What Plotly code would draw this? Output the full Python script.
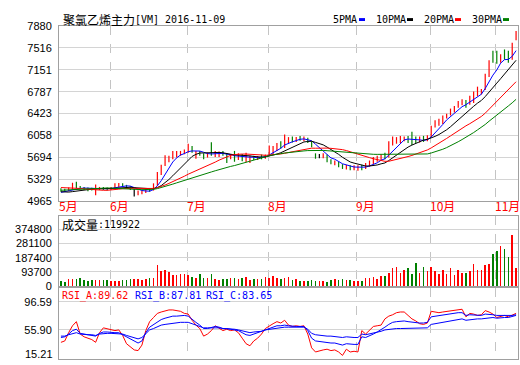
import plotly.graph_objects as go
import pandas as pd

# ---------------- data ----------------
month_labels = ["5月", "6月", "7月", "8月", "9月", "10月", "11月"]
month_start = [0, 13, 33, 54, 77, 96, 113]
price_ticks = [4965, 5329, 5694, 6058, 6423, 6787, 7151, 7516, 7880]
vol_ticks = [0, 93700, 187400, 281100, 374800]
rsi_ticks = [15.21, 55.90, 96.59]

# closes before the visible window (used only to warm up the moving averages)
prior_closes = [5020, 5030, 5040, 5050, 5060, 5050, 5060, 5070, 5080, 5090,
                5150, 5200, 5250, 5280, 5300, 5310, 5290, 5270, 5300, 5250,
                5200, 5160, 5120, 5090, 5080, 5070, 5090, 5110, 5140]

opens = [5150, 5145, 5135, 5165, 5200, 5195, 5185, 5175, 5165, 5140,
         5170, 5190, 5170, 5165, 5185, 5225, 5250, 5225, 5200, 5105,
         5100, 5110, 5115, 5160, 5150, 5240, 5430, 5560, 5670, 5700,
         5730, 5770, 5790, 5790, 5870, 5700, 5780, 5760, 5700, 5800,
         5760, 5740, 5770, 5740, 5680, 5760, 5680, 5740, 5660, 5690,
         5710, 5680, 5730, 5710, 5720, 5780, 5850, 5930, 5880, 5990,
         6020, 5970, 6020, 5990, 6010, 5950, 5750, 5720, 5710, 5740,
         5640, 5580, 5610, 5560, 5510, 5550, 5490, 5520, 5560, 5510,
         5560, 5600, 5650, 5680, 5740, 5700, 5900, 5980, 5990, 5990,
         6030, 6020, 6000, 5960, 6010, 5980, 6040, 6200, 6260, 6300,
         6370, 6400, 6480, 6540, 6600, 6640, 6590, 6690, 6740, 6790,
         6820, 7060, 7440, 7400, 7280, 7470, 7440, 7330, 7660]
highs = [5180, 5170, 5190, 5270, 5285, 5215, 5200, 5190, 5185, 5240,
         5200, 5200, 5190, 5200, 5260, 5265, 5260, 5235, 5210, 5170,
         5140, 5140, 5170, 5180, 5260, 5450, 5570, 5730, 5720, 5800,
         5800, 5800, 5825, 5920, 5880, 5800, 5800, 5760, 5770, 5945,
         5800, 5790, 5800, 5760, 5750, 5800, 5760, 5750, 5770, 5720,
         5720, 5710, 5740, 5740, 5890, 5880, 5930, 5960, 6075, 6030,
         6040, 6030, 6050, 6040, 6020, 5960, 5760, 5750, 5760, 5740,
         5660, 5640, 5620, 5580, 5570, 5560, 5560, 5560, 5570, 5600,
         5640, 5700, 5720, 5740, 5770, 5960, 6040, 6030, 6050, 6040,
         6050, 6120, 6040, 6040, 6050, 6060, 6220, 6310, 6335, 6390,
         6420, 6505, 6550, 6630, 6660, 6650, 6720, 6790, 6870, 6830,
         7085, 7310, 7470, 7470, 7410, 7490, 7470, 7600, 7795]
lows = [5120, 5125, 5130, 5160, 5180, 5160, 5150, 5130, 5140, 5060,
        5150, 5150, 5140, 5150, 5170, 5200, 5215, 5185, 5150, 5040,
        5060, 5080, 5100, 5120, 5140, 5220, 5400, 5550, 5610, 5660,
        5690, 5720, 5745, 5770, 5770, 5670, 5720, 5660, 5690, 5720,
        5700, 5700, 5720, 5600, 5660, 5620, 5650, 5630, 5610, 5600,
        5650, 5650, 5660, 5670, 5710, 5740, 5800, 5840, 5850, 5930,
        5940, 5950, 5970, 5960, 5930, 5860, 5670, 5680, 5680, 5610,
        5580, 5560, 5530, 5500, 5490, 5480, 5480, 5470, 5480, 5500,
        5540, 5580, 5620, 5650, 5660, 5690, 5890, 5920, 5930, 5960,
        5930, 5900, 5930, 5940, 5950, 5960, 6030, 6190, 6220, 6250,
        6340, 6390, 6440, 6520, 6560, 6520, 6570, 6600, 6710, 6740,
        6815, 7030, 7270, 7250, 7270, 7320, 7270, 7320, 7645]
closes = [5140, 5135, 5170, 5200, 5190, 5180, 5170, 5160, 5150, 5175,
          5190, 5170, 5160, 5185, 5230, 5250, 5225, 5200, 5165, 5105,
          5120, 5115, 5160, 5150, 5240, 5430, 5540, 5680, 5700, 5730,
          5770, 5780, 5800, 5860, 5790, 5780, 5760, 5700, 5750, 5760,
          5780, 5770, 5740, 5680, 5730, 5680, 5740, 5660, 5700, 5700,
          5680, 5690, 5710, 5720, 5860, 5850, 5910, 5880, 5990, 6010,
          5970, 6010, 5990, 6020, 5950, 5880, 5720, 5720, 5740, 5640,
          5600, 5610, 5550, 5530, 5550, 5500, 5530, 5540, 5510, 5570,
          5600, 5650, 5680, 5720, 5700, 5900, 5990, 6000, 6010, 6020,
          5970, 5980, 5960, 5990, 5980, 6030, 6200, 6280, 6320, 6370,
          6410, 6490, 6530, 6610, 6640, 6580, 6700, 6780, 6850, 6810,
          7060, 7290, 7300, 7280, 7380, 7350, 7310, 7560, 7750]
volumes = [34700, 28400, 45200, 43100, 47300, 53600, 38900, 34700, 41000, 41000,
           41000, 41000, 36800, 34700, 34700, 34700, 36800, 38900, 45200, 43100,
           43100, 41000, 49400, 53600, 55700, 135700, 97800, 104100, 93600, 72600,
           72600, 81000, 81000, 72600, 62000, 51500, 81000, 51500, 55700, 81000,
           45200, 41000, 43100, 49400, 53600, 55700, 43100, 51500, 57800, 41000,
           47300, 45200, 45200, 60900, 55700, 66200, 55700, 47300, 55700, 60900,
           41000, 47300, 34700, 34700, 34700, 41000, 34700, 34700, 34700, 28400,
           41000, 47300, 36800, 43100, 41000, 41000, 34700, 34700, 34700, 51500,
           51500, 60900, 43100, 66200, 66200, 87400, 118900, 123100, 87400, 108400,
           118900, 81000, 150300, 87400, 123100, 97800, 123100, 97800, 81000, 104100,
           81000, 116800, 72600, 104100, 87400, 87400, 100000, 144000, 104100, 104100,
           135700, 144000, 213000, 234000, 263500, 242500, 192000, 339000, 119922]

rsi_a = [38, 40, 52, 62, 68, 50, 46, 44, 42, 38,
         52, 59, 58, 56, 55, 56, 48, 36, 32, 27,
         26, 34, 55, 68, 74, 80, 82, 84, 85, 85,
         84, 83, 80, 79, 70, 63, 58, 47, 50, 55,
         62, 58, 55, 57, 55, 56, 52, 44, 36, 33,
         40, 44, 50, 58, 62, 65, 68, 66, 70, 63,
         61, 62, 61, 62, 50, 30, 24, 26, 27, 28,
         26, 27, 24, 19, 28, 24, 25, 24, 55, 50,
         56, 61, 62, 63, 72, 76, 78, 81, 82, 82,
         77, 72, 69, 65, 64, 66, 83, 82, 81, 82,
         83, 84, 85, 85, 86, 75, 80, 79, 77, 78,
         84, 82, 79, 74, 76, 77, 75, 77, 80]
rsi_b = [45, 46, 50, 55, 57, 51, 50, 49, 48, 47,
         51, 53, 53, 52, 52, 52, 49, 45, 42, 39,
         37, 40, 52, 60, 64, 68, 71, 73, 75, 76,
         76, 77, 77, 76, 71, 67, 63, 58, 58, 59,
         61, 60, 58, 58, 57, 57, 55, 52, 49, 48,
         50, 51, 53, 56, 58, 60, 62, 62, 63, 62,
         61, 61, 61, 61, 55, 44, 40, 39, 38, 38,
         37, 37, 36, 34, 36, 35, 35, 35, 46, 45,
         47, 50, 53, 56, 60, 64, 67, 68, 69, 69,
         68, 67, 66, 66, 66, 67, 75, 76, 77, 78,
         79, 80, 80, 81, 81, 77, 78, 78, 77, 77,
         79, 79, 78, 77, 77, 77, 76, 77, 78]
rsi_c = [47, 47, 49, 51, 52, 50, 49, 49, 49, 48,
         50, 51, 51, 51, 51, 51, 50, 48, 46, 44,
         43, 45, 51, 56, 58, 61, 63, 64, 65, 66,
         66, 67, 67, 67, 65, 63, 61, 59, 59, 59,
         60, 59, 58, 58, 57, 57, 56, 55, 53, 52,
         53, 53, 54, 56, 57, 58, 59, 59, 60, 60,
         60, 60, 60, 60, 57, 51, 49, 48, 48, 47,
         47, 46, 46, 45, 46, 45, 45, 45, 50, 49,
         50, 52, 53, 54, 56, 57, 58, 58, 58, 58,
         58, 58, 58, 58, 58, 59, 64, 65, 67, 68,
         69, 70, 71, 71, 72, 70, 71, 72, 72, 72,
         73, 74, 74, 73, 74, 74, 74, 75, 77]

title_cn = "聚氯乙烯主力"
title_code = "[VM] 2016-11-09"
vol_label_cn = "成交量"
vol_label_val = ":119922"
rsi_labels = ["RSI_A:89.62", "RSI_B:87.81", "RSI_C:83.65"]
ma_names = ["5PMA", "10PMA", "20PMA", "30PMA"]
ma_periods = [5, 10, 20, 30]

# ---------------- derived series ----------------
RED, GREEN, BLUE, BLACK = "#ff0000", "#008000", "#0000ff", "#000000"
n = len(closes)
idx = list(range(n))
npri = len(prior_closes)
allc = pd.Series(prior_closes + closes, dtype=float)

mas = [allc.rolling(p).mean().iloc[npri:].tolist() for p in ma_periods]
ma_colors = [BLUE, BLACK, RED, GREEN]
rsis = [rsi_a, rsi_b, rsi_c]
rsi_colors = [RED, BLUE, BLUE]

fig = go.Figure()

# candles as high-low sticks grouped by colour
groups = {RED: ([], []), GREEN: ([], []), BLACK: ([], [])}
for i in idx:
    if closes[i] > opens[i]:
        col = RED
    elif closes[i] < opens[i]:
        col = GREEN
    else:
        col = BLACK
    gx, gy = groups[col]
    gx += [i, i, None]
    gy += [lows[i], highs[i], None]
for col, (gx, gy) in groups.items():
    fig.add_trace(go.Scatter(x=gx, y=gy, mode="lines", line=dict(color=col, width=1.2),
                             hoverinfo="skip", xaxis="x", yaxis="y"))

for m, col in zip(mas, ma_colors):
    fig.add_trace(go.Scatter(x=idx, y=m, mode="lines", line=dict(color=col, width=1),
                             xaxis="x", yaxis="y"))

vol_colors = [RED if closes[i] >= opens[i] else GREEN for i in idx]
fig.add_trace(go.Bar(x=idx, y=volumes, marker=dict(color=vol_colors, line=dict(width=0)),
                     width=0.38, xaxis="x2", yaxis="y2"))

for r, col in zip(rsis, rsi_colors):
    fig.add_trace(go.Scatter(x=idx, y=r, mode="lines", line=dict(color=col, width=1),
                             xaxis="x3", yaxis="y3"))

# ---------------- layout ----------------
H = 365.0
vlines = [s - 0.25 for s in month_start[1:]]
xcommon = dict(range=[-0.5, n - 0.5], tickvals=vlines, showticklabels=False,
               showgrid=True, gridcolor="#c4c4c4", griddash="dash", gridwidth=1,
               showline=True, mirror=True, linecolor="#a0a0a0", linewidth=1,
               zeroline=False, ticks="", fixedrange=True)
ycommon = dict(showgrid=True, gridcolor="#d4d4d4", gridwidth=1, showline=True,
               mirror=True, linecolor="#a0a0a0", linewidth=1, zeroline=False,
               ticks="", ticklabelstandoff=4, fixedrange=True,
               tickfont=dict(family="Liberation Sans", size=11, color="#000000"))

fig.update_layout(
    width=520, height=365, margin=dict(l=59, r=2, t=0, b=0),
    paper_bgcolor="white", plot_bgcolor="white", showlegend=False, bargap=0,
    hovermode=False,
    xaxis=dict(domain=[0, 1], anchor="y", **xcommon),
    xaxis2=dict(domain=[0, 1], anchor="y2", **xcommon),
    xaxis3=dict(domain=[0, 1], anchor="y3", **xcommon),
    yaxis=dict(domain=[1 - 201.7 / H, 1 - 20.7 / H], range=[4965, 7880],
               tickvals=price_ticks, ticktext=[str(v) for v in price_ticks], **ycommon),
    yaxis2=dict(domain=[1 - 289.5 / H, 1 - 216.7 / H], range=[0, 466400],
                tickvals=vol_ticks, ticktext=[str(v) for v in vol_ticks], **ycommon),
    yaxis3=dict(domain=[0, 1 - 291.5 / H], range=[13.81, 116.93],
                tickvals=rsi_ticks[1:], ticktext=["%.2f" % v for v in rsi_ticks[1:]], **ycommon),
)

ann = []
cjk = "Noto Sans CJK SC"
mono = "DejaVu Sans Mono"
# title
ann.append(dict(text=title_cn, x=61, y=14, font=dict(family=cjk, size=12, color="#000")))
ann.append(dict(text=title_code, x=133, y=14, font=dict(family=mono, size=10, color="#000")))
# MA legend
leg_x = [331, 374, 422, 470]
sq_x = [359, 407, 455, 503]
for name, col, lx, sx in zip(ma_names, ma_colors, leg_x, sq_x):
    ann.append(dict(text=name, x=lx, y=14, font=dict(family=mono, size=10, color="#000")))
    fig.add_shape(type="rect", xref="paper", yref="paper",
                  x0=(sx - 59) / 459.0, x1=(sx + 6 - 59) / 459.0,
                  y0=1 - 15.5 / H, y1=1 - 12.5 / H, fillcolor=col, line=dict(width=0))
# volume label
ann.append(dict(text=vol_label_cn, x=60, y=225.5, font=dict(family=cjk, size=12, color="#000")))
ann.append(dict(text=vol_label_val, x=96, y=225.5, font=dict(family=mono, size=10, color="#000")))
# RSI labels
for t, col, lx in zip(rsi_labels, rsi_colors, [60, 132.5, 204]):
    ann.append(dict(text=t, x=lx, y=300, font=dict(family=mono, size=10, color=col)))
# RSI bottom tick label (lifted to stay inside the picture)
ann.append(dict(text="%.2f" % rsi_ticks[0], x=55, y=360.3, xanchor="right",
                font=dict(family="Liberation Sans", size=11, color="#000")))

annotations = []
for a in ann:
    px, py = a.pop("x"), a.pop("y")
    xa = a.pop("xanchor", "left")
    annotations.append(dict(xref="paper", yref="paper", x=(px - 59) / 459.0, y=1 - py / H,
                            xanchor=xa, yanchor="middle", showarrow=False, **a))
# month labels (red) under the price panel, left-aligned on each month's first bar
for lab, s in zip(month_labels, month_start):
    annotations.append(dict(xref="paper", yref="paper", x=(s - 0.4) / n, y=1 - 206 / H,
                            xanchor="left", yanchor="middle", showarrow=False, text=lab,
                            font=dict(family=cjk, size=12, color=RED)))
fig.update_layout(annotations=annotations)

fig.write_html("out.html", config={"displayModeBar": False, "staticPlot": True},
               post_script="document.body.style.margin='0px';document.body.style.overflow='hidden';")
